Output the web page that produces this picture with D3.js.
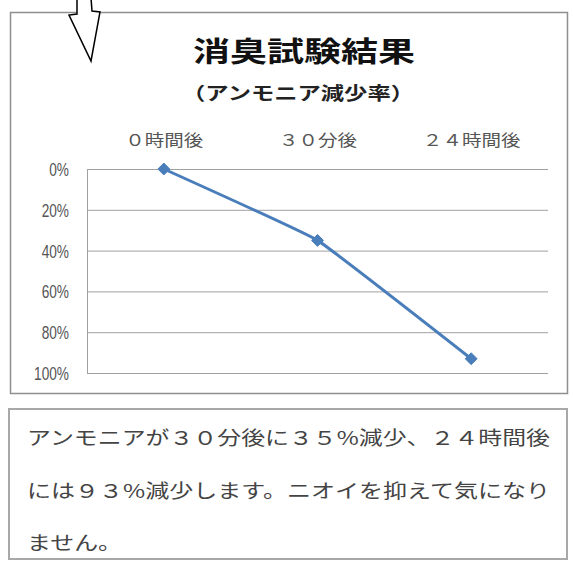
<!DOCTYPE html>
<html>
<head>
<meta charset="utf-8">
<script src="https://cdn.jsdelivr.net/npm/d3@7/dist/d3.min.js"></script>
<style>
  html, body { margin: 0; padding: 0; background: #fff; }
  svg { display: block; }
</style>
</head>
<body>
<svg id="chart" width="573" height="563"></svg>
<script>
// ---- data ----
const categories = ["０時間後", "３０分後", "２４時間後"];
const reduction = [0, 35, 93];               // アンモニア減少率 (%)
const yTicks = [0, 20, 40, 60, 80, 100];
const titleText = "消臭試験結果";
const subtitleText = "（アンモニア減少率）";
const bodyLines = [
  "アンモニアが３０分後に３５%減少、２４時間後",
  "には９３%減少します。ニオイを抑えて気になり",
  "ません。"
];

const CJK = "'Noto Sans CJK JP', 'Noto Sans CJK SC', sans-serif";
const svg = d3.select("#chart");

// chart frame
svg.append("rect")
  .attr("x", 10.5).attr("y", 12.5).attr("width", 557).attr("height", 381)
  .attr("fill", "#fff").attr("stroke", "#8f8f8f").attr("stroke-width", 1.5);

// text box
svg.append("rect")
  .attr("x", 9).attr("y", 409).attr("width", 558).attr("height", 150)
  .attr("fill", "#fff").attr("stroke", "#a8a8a8").attr("stroke-width", 2);

// title & subtitle
svg.append("text")
  .attr("x", 304).attr("y", 50)
  .attr("text-anchor", "middle").attr("dominant-baseline", "central")
  .attr("font-family", CJK).attr("font-weight", "bold").attr("font-size", 28)
  .attr("fill", "#111")
  .attr("textLength", 222).attr("lengthAdjust", "spacingAndGlyphs")
  .text(titleText);

svg.append("text")
  .attr("x", 298).attr("y", 91.5)
  .attr("text-anchor", "middle").attr("dominant-baseline", "central")
  .attr("font-family", CJK).attr("font-weight", "bold").attr("font-size", 18)
  .attr("fill", "#222")
  .attr("textLength", 232).attr("lengthAdjust", "spacingAndGlyphs")
  .text(subtitleText);

// scales
const plot = { left: 87, right: 548, top: 169, bottom: 373 };
const x = d3.scalePoint().domain(categories).range([plot.left, plot.right]).padding(0.5);
const y = d3.scaleLinear().domain([0, 100]).range([plot.top, plot.bottom]);

// y axis with gridlines
const yAxis = d3.axisLeft(y)
  .tickValues(yTicks)
  .tickFormat(d => d + "%")
  .tickSize(-(plot.right - plot.left))
  .tickSizeOuter(0)
  .tickPadding(18);

const ySx = 0.76;
const gy = svg.append("g").attr("transform", `translate(${plot.left},0)`).call(yAxis);
gy.select(".domain").attr("stroke", "#a0a0a0").attr("stroke-width", 1);
gy.selectAll(".tick line").attr("stroke", "#a0a0a0").attr("stroke-width", 1);
gy.selectAll(".tick text")
  .attr("font-family", "'Liberation Sans', Arial, sans-serif")
  .attr("font-size", 18)
  .attr("fill", "#555")
  .attr("x", -18 / ySx)
  .attr("dy", "0.36em")
  .attr("transform", `scale(${ySx},1)`);

// category axis at top
const xAxis = d3.axisTop(x).tickSize(0).tickPadding(0);
const gx = svg.append("g").attr("transform", "translate(0,139)").call(xAxis);
gx.select(".domain").remove();
gx.selectAll(".tick text")
  .attr("y", 0).attr("dy", null)
  .attr("dominant-baseline", "central")
  .attr("font-family", CJK).attr("font-size", 16)
  .attr("fill", "#555")
  .attr("textLength", d => d.length * 16 * 1.22)
  .attr("lengthAdjust", "spacingAndGlyphs");

// line
const pts = categories.map((c, i) => [x(c), y(reduction[i])]);
svg.append("path")
  .datum(pts)
  .attr("fill", "none")
  .attr("stroke", "#4a7ebb")
  .attr("stroke-width", 3)
  .attr("stroke-linejoin", "round")
  .attr("d", d3.line().curve(d3.curveCardinal.tension(0.75)));

// diamond markers
svg.selectAll(".marker")
  .data(pts)
  .join("path")
  .attr("class", "marker")
  .attr("transform", d => `translate(${d[0]},${d[1]})`)
  .attr("d", d3.symbol().type(d3.symbolDiamond2).size(90))
  .attr("fill", "#4a7ebb")
  .attr("stroke", "#4a7ebb")
  .attr("stroke-width", 1);

// body text
const bodyY = [436, 489, 541];
const bodyLen = [523, 523, 95];
svg.selectAll(".body")
  .data(bodyLines)
  .join("text")
  .attr("class", "body")
  .attr("x", 27)
  .attr("y", (d, i) => bodyY[i])
  .attr("dominant-baseline", "central")
  .attr("font-family", CJK).attr("font-size", 19)
  .attr("fill", "#444")
  .attr("textLength", (d, i) => bodyLen[i])
  .attr("lengthAdjust", "spacingAndGlyphs")
  .text(d => d);

// hollow arrow at top-left
svg.append("path")
  .attr("d", "M77,-2 L77,14 L69,15 L91,61 L100,12 L92,11 L91,-2")
  .attr("fill", "#fff")
  .attr("stroke", "#000")
  .attr("stroke-width", 1.5)
  .attr("stroke-linejoin", "miter");
</script>
</body>
</html>
